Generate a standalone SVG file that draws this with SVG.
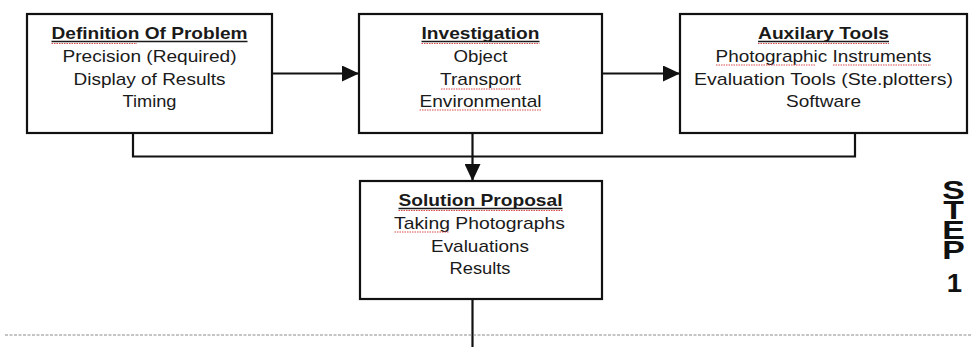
<svg xmlns="http://www.w3.org/2000/svg" width="971" height="347" viewBox="0 0 971 347">
  <style>
    .box { fill: #ffffff; stroke: #111111; stroke-width: 2.2; }
    .conn { fill: none; stroke: #111111; stroke-width: 2.2; }
    .t { font-family: "Liberation Sans", Arial, sans-serif; font-size: 17px; fill: #1a1a1a; text-anchor: middle; }
    .title { font-weight: bold; }
    .ul { stroke: #1a1a1a; stroke-width: 1.3; }
    .spell { stroke: #d84a4a; stroke-width: 1; stroke-dasharray: 1.5 1; }
    .step { font-family: "Liberation Sans", Arial, sans-serif; font-size: 25px; font-weight: bold; fill: #111111; }
    .vert { writing-mode: vertical-rl; text-orientation: upright; letter-spacing: -7.7px; }
    .sep { stroke: #8a8a8a; stroke-width: 1; stroke-dasharray: 3 1.5; }
  </style>
  <defs>
    <marker id="arrow" markerUnits="userSpaceOnUse" markerWidth="17" markerHeight="16" refX="17" refY="8" orient="auto">
      <path d="M0,0 L17,8 L0,16 Z" fill="#111111"/>
    </marker>
  </defs>

  <rect width="971" height="347" fill="#ffffff"/>

  <!-- connectors -->
  <g id="connectors">
    <line class="conn" x1="272" y1="73.5" x2="359" y2="73.5" marker-end="url(#arrow)"/>
    <line class="conn" x1="602" y1="73.5" x2="680" y2="73.5" marker-end="url(#arrow)"/>
    <path class="conn" d="M133,133 V156.5 H855 V133"/>
    <line class="conn" x1="472.5" y1="133" x2="472.5" y2="181" marker-end="url(#arrow)"/>
    <line class="conn" x1="472.5" y1="299" x2="472.5" y2="347"/>
  </g>

  <!-- step 1: definition of problem -->
  <g id="definition">
    <rect class="box" x="27" y="14" width="245" height="119"/>
    <text class="t title" x="149.5" y="39" textLength="196" lengthAdjust="spacingAndGlyphs">Definition Of Problem</text>
    <line class="ul" x1="51.5" y1="41.5" x2="247.5" y2="41.5"/>
    <line class="spell" x1="51.5" y1="43.5" x2="137" y2="43.5"/>
    <text class="t" x="149.5" y="62" textLength="174" lengthAdjust="spacingAndGlyphs">Precision (Required)</text>
    <text class="t" x="149.5" y="85" textLength="152" lengthAdjust="spacingAndGlyphs">Display of Results</text>
    <text class="t" x="149.5" y="107" textLength="54" lengthAdjust="spacingAndGlyphs">Timing</text>
  </g>

  <!-- investigation -->
  <g id="investigation">
    <rect class="box" x="359" y="14" width="243" height="119"/>
    <text class="t title" x="480.5" y="39" textLength="118" lengthAdjust="spacingAndGlyphs">Investigation</text>
    <line class="ul" x1="421.5" y1="41.5" x2="539.5" y2="41.5"/>
    <line class="spell" x1="421.5" y1="43.5" x2="539.5" y2="43.5"/>
    <text class="t" x="480.5" y="62" textLength="54" lengthAdjust="spacingAndGlyphs">Object</text>
    <text class="t" x="480.5" y="85" textLength="81" lengthAdjust="spacingAndGlyphs">Transport</text>
    <line class="spell" x1="441" y1="89" x2="521" y2="89"/>
    <text class="t" x="480.5" y="107" textLength="122" lengthAdjust="spacingAndGlyphs">Environmental</text>
    <line class="spell" x1="419.5" y1="110" x2="541" y2="110"/>
  </g>

  <!-- auxiliary tools -->
  <g id="auxilary">
    <rect class="box" x="680" y="14" width="287" height="119"/>
    <text class="t title" x="823.5" y="39" textLength="131" lengthAdjust="spacingAndGlyphs">Auxilary Tools</text>
    <line class="ul" x1="758" y1="41.5" x2="889" y2="41.5"/>
    <line class="spell" x1="758" y1="43.5" x2="889" y2="43.5"/>
    <text class="t" x="823.5" y="62" textLength="216" lengthAdjust="spacingAndGlyphs">Photographic Instruments</text>
    <line class="spell" x1="716" y1="65" x2="816" y2="65"/>
    <line class="spell" x1="833" y1="65" x2="931" y2="65"/>
    <text class="t" x="823.5" y="85" textLength="259" lengthAdjust="spacingAndGlyphs">Evaluation Tools (Ste.plotters)</text>
    <text class="t" x="823.5" y="107" textLength="75" lengthAdjust="spacingAndGlyphs">Software</text>
  </g>

  <!-- solution proposal -->
  <g id="solution">
    <rect class="box" x="360" y="181" width="242" height="118"/>
    <text class="t title" x="480.5" y="206" textLength="164" lengthAdjust="spacingAndGlyphs">Solution Proposal</text>
    <line class="ul" x1="398.5" y1="208.5" x2="562.5" y2="208.5"/>
    <line class="spell" x1="398.5" y1="210.5" x2="562.5" y2="210.5"/>
    <text class="t" x="479.5" y="229" textLength="171" lengthAdjust="spacingAndGlyphs">Taking Photographs</text>
    <line class="spell" x1="394.5" y1="232" x2="449" y2="232"/>
    <text class="t" x="480" y="252" textLength="98" lengthAdjust="spacingAndGlyphs">Evaluations</text>
    <text class="t" x="480" y="274" textLength="61" lengthAdjust="spacingAndGlyphs">Results</text>
  </g>

  <!-- vertical step label: upright letters in a vertical run, widened 1.35x -->
  <g id="step-label">
    <text class="step vert" transform="scale(1.35,1)" x="706.3" y="176">STEP</text>
    <text class="step" text-anchor="middle" transform="translate(954.5,292) scale(1.1,1)">1</text>
  </g>

  <!-- stage separator -->
  <line class="sep" x1="5" y1="335" x2="971" y2="335"/>
</svg>
